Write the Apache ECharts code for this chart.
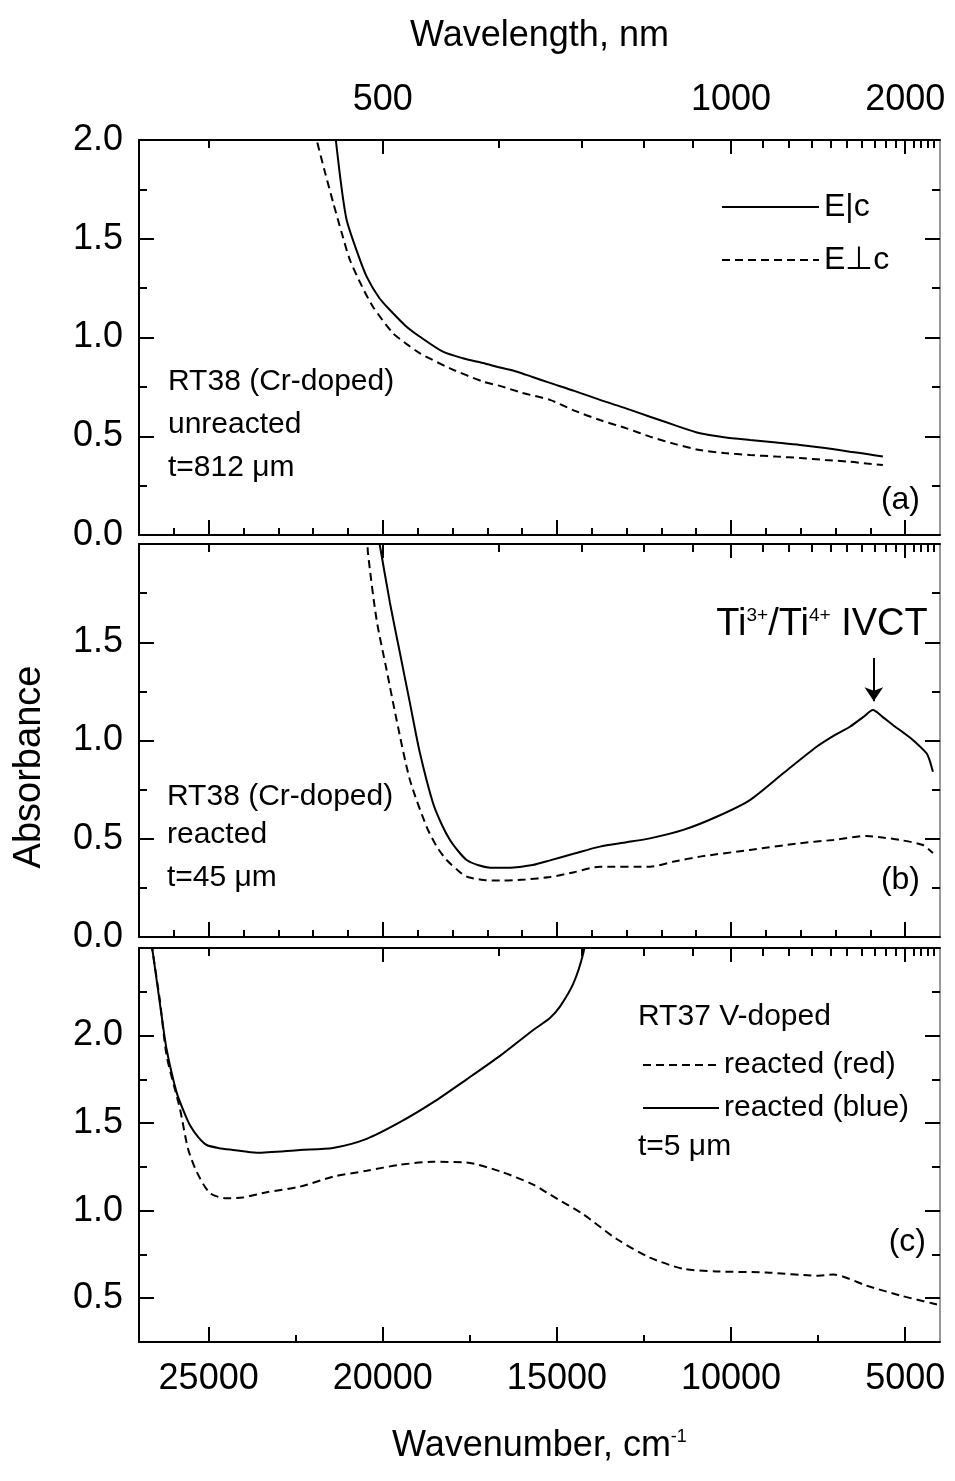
<!DOCTYPE html>
<html>
<head>
<meta charset="utf-8">
<script src="https://cdn.jsdelivr.net/npm/echarts@6/dist/echarts.min.js"></script>
<style>
html, body { margin: 0; padding: 0; background: #fff; }
#main { width: 955px; height: 1481px; }
</style>
</head>
<body>
<div id="main"></div>
<script>
// 数据: [波数 cm-1, 吸光度]
var aPara = [[21380, 2.05], [21200, 1.78], [21037, 1.595], [20750, 1.44], [20463, 1.308], [20100, 1.2], [19794, 1.139],
    [19350, 1.06], [18933, 1.004], [18272, 0.928], [17700, 0.895], [17124, 0.871], [16636, 0.848], [16148, 0.827],
    [15700, 0.8], [15200, 0.77], [14500, 0.73], [13765, 0.684], [13000, 0.64], [12329, 0.599], [11600, 0.555],
    [10893, 0.515], [10200, 0.495], [9458, 0.481], [8700, 0.468], [8022, 0.456], [7300, 0.44], [6587, 0.422],
    [6100, 0.41], [5640, 0.397]];
var aPerp = [[21950, 2.05], [21898, 2.0], [21650, 1.83], [21420, 1.68], [21180, 1.53], [20942, 1.392], [20600, 1.26],
    [20282, 1.156], [19708, 1.022], [19300, 0.965], [18933, 0.92], [18071, 0.844], [17124, 0.777], [16636, 0.755],
    [16000, 0.72], [15200, 0.684], [14500, 0.63], [13765, 0.582], [13000, 0.54], [12329, 0.498], [11600, 0.46],
    [10893, 0.43], [10200, 0.415], [9458, 0.405], [8700, 0.397], [8022, 0.39], [7300, 0.38], [6587, 0.371],
    [6100, 0.362], [5640, 0.354]];
var bPara = [[20150, 2.05], [20081, 1.99], [19794, 1.70], [19507, 1.445], [19220, 1.19], [18933, 0.936], [18559, 0.682],
    [18300, 0.57], [18071, 0.494], [17800, 0.43], [17592, 0.392], [17250, 0.365], [16923, 0.353], [16500, 0.352],
    [16157, 0.355], [15700, 0.366], [15200, 0.39], [14500, 0.425], [13765, 0.46], [13000, 0.482], [12329, 0.502],
    [11372, 0.545], [10414, 0.612], [9458, 0.697], [8501, 0.833], [7543, 0.968], [7000, 1.03], [6587, 1.07],
    [6200, 1.12], [5926, 1.155], [5650, 1.12], [5353, 1.079], [5050, 1.04], [4779, 1.003], [4385, 0.935],
    [4300, 0.9], [4203, 0.841]];
var bPerp = [[20450, 2.05], [20425, 1.954], [20177, 1.613], [19890, 1.359], [19603, 1.104], [19220, 0.799],
    [18741, 0.561], [18450, 0.46], [18166, 0.392], [17850, 0.34], [17592, 0.307], [17100, 0.29], [16636, 0.287],
    [15900, 0.293], [15200, 0.305], [14500, 0.33], [13765, 0.358], [12329, 0.358], [11600, 0.385], [10893, 0.409],
    [9458, 0.443], [8022, 0.477], [7065, 0.494], [6108, 0.514], [5600, 0.505], [5152, 0.494], [4492, 0.468],
    [4203, 0.427]];
var cBlue = [[26700, 2.6], [26598, 2.466], [26348, 2.11], [26205, 1.919], [25918, 1.674], [25700, 1.56], [25536, 1.488],
    [25300, 1.42], [25056, 1.375], [24700, 1.357], [24301, 1.347], [23621, 1.331], [22378, 1.347], [21430, 1.358],
    [20463, 1.41], [19507, 1.505], [18559, 1.618], [17592, 1.75], [16636, 1.884], [15679, 2.032], [15200, 2.1],
    [14913, 2.165], [14530, 2.296], [14243, 2.47], [14150, 2.6]];
var cRed = [[26700, 2.6], [26598, 2.466], [26400, 2.2], [26205, 1.884], [25823, 1.58], [25593, 1.354], [25344, 1.222],
    [24962, 1.10], [24483, 1.071], [24014, 1.075], [23334, 1.105], [22378, 1.137], [21430, 1.194], [20463, 1.228],
    [19507, 1.262], [18559, 1.279], [17592, 1.275], [16636, 1.225], [15679, 1.149], [15200, 1.092], [14243, 0.979],
    [13285, 0.838], [12329, 0.732], [11372, 0.668], [10414, 0.653], [8978, 0.647], [7543, 0.629], [7065, 0.635],
    [6108, 0.572], [5152, 0.516], [4203, 0.47], [4000, 0.46]];

// 刻度
var wnMajor = [5000, 10000, 15000, 20000, 25000];
var wnMinor1000 = [6000, 7000, 8000, 9000, 11000, 12000, 13000, 14000, 16000, 17000, 18000, 19000,
    21000, 22000, 23000, 24000, 26000];
var wnMinor2500 = [7500, 12500, 17500, 22500];
var nmMajor = [500, 1000, 2000];
var nmMinor = [400, 600, 700, 800, 900, 1100, 1200, 1300, 1400, 1500, 1600, 1700, 1800, 1900,
    2100, 2200, 2300, 2400];
var yMajorAB = [0, 0.5, 1, 1.5, 2];
var yMinorAB = [0.25, 0.75, 1.25, 1.75];
var yLabelsA = [0, 0.5, 1, 1.5, 2];
var yLabelsB = [0, 0.5, 1, 1.5];
var yMajorC = [0.5, 1, 1.5, 2];
var yMinorC = [0.75, 1.25, 1.75, 2.25];
var yLabelsC = [0.5, 1, 1.5, 2];

var font = '"Liberation Sans", Arial, Helvetica, sans-serif';
var toWn = function (nm) { return 1e7 / nm; };

var panels = [
    { top: 140, height: 395, min: 0, max: 2, yMajor: yMajorAB, yMinor: yMinorAB, yLabels: yLabelsA, xMinor: wnMinor1000 },
    { top: 544, height: 393, min: 0, max: 2, yMajor: yMajorAB, yMinor: yMinorAB, yLabels: yLabelsB, xMinor: wnMinor1000 },
    { top: 948, height: 394, min: 0.25, max: 2.5, yMajor: yMajorC, yMinor: yMinorC, yLabels: yLabelsC, xMinor: wnMinor2500 }
];

var grids = [], xAxes = [], yAxes = [];
var black = { color: '#000', width: 2 };
var labelStyle = { fontSize: 36, color: '#000', fontFamily: font };

panels.forEach(function (p, i) {
    grids.push({ left: 139, width: 801, top: p.top, height: p.height, outerBoundsMode: 'none' });
    function xa(extra) {
        return Object.assign({
            type: 'value', gridIndex: i, min: 4000, max: 27000, inverse: true,
            splitLine: { show: false }, axisLabel: { show: false },
            axisLine: { show: false, onZero: false }
        }, extra);
    }
    function ya(extra) {
        return Object.assign({
            type: 'value', gridIndex: i, min: p.min, max: p.max,
            splitLine: { show: false }, axisLabel: { show: false },
            axisLine: { show: false, onZero: false }
        }, extra);
    }
    // 下方波数轴
    xAxes.push(xa({
        position: 'bottom',
        axisLine: { show: true, onZero: false, lineStyle: black },
        axisTick: { inside: true, length: 15, customValues: wnMajor, lineStyle: black },
        axisLabel: Object.assign({ show: i === 2, customValues: wnMajor, margin: 19,
            formatter: function (v) { return String(v); } }, labelStyle),
        name: i === 2 ? 'Wavenumber, cm{sup|-1}' : '',
        nameLocation: 'middle', nameGap: 86,
        nameTextStyle: { fontSize: 36, color: '#000', fontFamily: font,
            rich: { sup: { fontSize: 18, color: '#000', fontFamily: font, verticalAlign: 'top', padding: [0, 0, 18, 0] } } }
    }));
    xAxes.push(xa({ position: 'bottom', axisTick: { inside: true, length: 7, customValues: p.xMinor, lineStyle: black } }));
    // 上方波长轴
    xAxes.push(xa({
        position: 'top',
        axisLine: { show: true, onZero: false, lineStyle: black },
        axisTick: { inside: true, length: 14, customValues: nmMajor.map(toWn), lineStyle: black },
        axisLabel: Object.assign({ show: i === 0, customValues: nmMajor.map(toWn), margin: 22,
            formatter: function (v) { return String(Math.round(1e7 / v)); } }, labelStyle),
        name: i === 0 ? 'Wavelength, nm' : '',
        nameLocation: 'middle', nameGap: 86,
        nameTextStyle: { fontSize: 36, color: '#000', fontFamily: font }
    }));
    xAxes.push(xa({ position: 'top', axisTick: { inside: true, length: 8, customValues: nmMinor.map(toWn), lineStyle: black } }));
    // 左右吸光度轴
    yAxes.push(ya({
        position: 'left',
        axisLine: { show: true, onZero: false, lineStyle: black },
        axisTick: { inside: true, length: 15, customValues: p.yMajor, lineStyle: black },
        axisLabel: Object.assign({ show: true, customValues: p.yLabels, margin: 16,
            formatter: function (v) { return v.toFixed(1); } }, labelStyle)
    }));
    yAxes.push(ya({ position: 'left', axisTick: { inside: true, length: 8, customValues: p.yMinor, lineStyle: black } }));
    yAxes.push(ya({
        position: 'right',
        axisLine: { show: true, onZero: false, lineStyle: { color: '#999', width: 2 } },
        axisTick: { inside: true, length: 15, customValues: p.yMajor, lineStyle: black }
    }));
    yAxes.push(ya({ position: 'right', axisTick: { inside: true, length: 8, customValues: p.yMinor, lineStyle: black } }));
});

function line(name, data, panel, dashed, extra) {
    return Object.assign({
        name: name, type: 'line', data: data, xAxisIndex: panel * 4, yAxisIndex: panel * 4,
        symbol: 'none', smooth: 0.25, clip: true,
        lineStyle: { color: '#000', width: 2, type: dashed ? [8, 5] : 'solid' },
        itemStyle: { color: '#000' }
    }, extra || {});
}

function txt(x, y, s, size, align) {
    return {
        type: 'text', x: x, y: y, silent: true,
        style: { text: s, font: size + 'px ' + font, fill: '#000', textAlign: align || 'left', textVerticalAlign: 'middle' }
    };
}

var myChart = echarts.init(document.getElementById('main'));
var option = {
    animation: false,
    backgroundColor: '#fff',
    grid: grids,
    xAxis: xAxes,
    yAxis: yAxes,
    legend: [
        {
            data: ['E|c', 'E⊥c'], orient: 'vertical', left: 716, top: 185,
            itemWidth: 97, itemHeight: 14, itemGap: 19, selectedMode: false,
            itemStyle: { opacity: 0 },
            textStyle: { fontSize: 32, lineHeight: 34, color: '#000', fontFamily: font }
        },
        {
            data: ['reacted (red)', 'reacted (blue)'], orient: 'vertical', left: 637, top: 1044,
            itemWidth: 76, itemHeight: 14, itemGap: 11, selectedMode: false,
            itemStyle: { opacity: 0 },
            textStyle: { fontSize: 30, lineHeight: 32, color: '#000', fontFamily: font }
        }
    ],
    graphic: [
        txt(168, 382, 'RT38 (Cr-doped)', 30),
        txt(168, 425, 'unreacted', 30),
        txt(168, 468, 't=812 μm', 30),
        txt(920, 500, '(a)', 32, 'right'),
        txt(167, 797, 'RT38 (Cr-doped)', 30),
        txt(167, 835, 'reacted', 30),
        txt(167, 878, 't=45 μm', 30),
        txt(920, 880, '(b)', 32, 'right'),
        {
            type: 'text', x: 822, y: 625, silent: true,
            style: {
                text: 'Ti{sup|3+}/Ti{sup|4+} IVCT', font: '38px ' + font, fill: '#000',
                textAlign: 'center', textVerticalAlign: 'middle',
                rich: { sup: { fontSize: 19, fill: '#000', fontFamily: font, verticalAlign: 'top', padding: [0, 0, 18, 0] } }
            }
        },
        txt(638, 1017, 'RT37 V-doped', 30),
        txt(638, 1147, 't=5 μm', 30),
        txt(926, 1242, '(c)', 32, 'right'),
        {
            type: 'text', x: 30, y: 767, rotation: Math.PI / 2, silent: true,
            style: { text: 'Absorbance', font: '38px ' + font, fill: '#000', textAlign: 'center', textVerticalAlign: 'middle' }
        }
    ],
    series: [
        line('E|c', aPara, 0, false),
        line('E⊥c', aPerp, 0, true),
        line('E|c', bPara, 1, false, {
            markLine: {
                silent: true, symbol: ['none', 'arrow'], symbolSize: 14,
                lineStyle: { color: '#000', width: 2, type: 'solid' },
                itemStyle: { color: '#000' },
                label: { show: false },
                data: [[{ coord: [5900, 1.42] }, { coord: [5900, 1.2] }]]
            }
        }),
        line('E⊥c', bPerp, 1, true),
        line('reacted (red)', cRed, 2, true),
        line('reacted (blue)', cBlue, 2, false)
    ]
};
myChart.setOption(option);
</script>
</body>
</html>
